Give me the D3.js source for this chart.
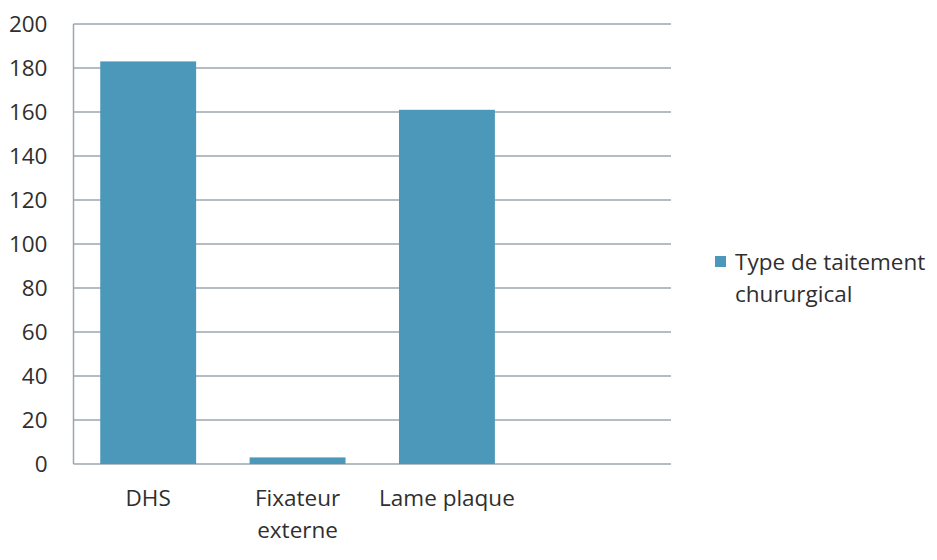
<!DOCTYPE html>
<html>
<head>
<meta charset="utf-8">
<script src="https://cdn.jsdelivr.net/npm/d3@7"></script>
<style>
  html, body { margin: 0; padding: 0; background: #fff; }
  svg { display: block; }
  text { font-family: "Open Sans", Lato, sans-serif; fill: #2f2f2f; }
</style>
</head>
<body>
<svg id="chart" width="937" height="560"></svg>
<script>
// Surgical treatment types and patient counts
const categories = ["DHS", "Fixateur externe", "Lame plaque", ""];
const values = [183, 3, 161, null];
const yTicks = [0, 20, 40, 60, 80, 100, 120, 140, 160, 180, 200];
const seriesName = ["Type de taitement", "chururgical"];

const svg = d3.select("#chart");
const margin = { left: 73.5, right: 266, top: 24, bottom: 96 };
const W = 937, H = 560;
const fontSize = "22.5px";

const x = d3.scaleBand()
  .domain(categories.map((c, i) => i))
  .range([margin.left, W - margin.right])
  .paddingInner(0.358)
  .paddingOuter(0.179);

const y = d3.scaleLinear()
  .domain([0, 200])
  .range([H - margin.bottom, margin.top]);

const gridColor = "#9ba6b1";
const barColor = "#4c98ba";

// horizontal gridlines
svg.append("g")
  .selectAll("line")
  .data(yTicks)
  .join("line")
  .attr("x1", margin.left)
  .attr("x2", W - margin.right)
  .attr("y1", d => y(d))
  .attr("y2", d => y(d))
  .attr("stroke", gridColor)
  .attr("stroke-width", 1.5);

// vertical axis line
svg.append("line")
  .attr("x1", margin.left).attr("x2", margin.left)
  .attr("y1", y(200)).attr("y2", y(0))
  .attr("stroke", gridColor)
  .attr("stroke-width", 1.5);

// y tick labels
const yAxis = d3.axisLeft(y).tickValues(yTicks).tickSize(0).tickPadding(26);
const gy = svg.append("g")
  .attr("transform", `translate(${margin.left},0)`)
  .call(yAxis);
gy.select(".domain").remove();
gy.selectAll("text")
  .style("font-size", fontSize)
  .style("font-family", "'Open Sans', Lato, sans-serif")
  .attr("fill", "#2f2f2f");

// bars
svg.append("g")
  .selectAll("rect")
  .data(values.map((v, i) => ({ v, i })).filter(d => d.v != null))
  .join("rect")
  .attr("x", d => x(d.i))
  .attr("width", x.bandwidth())
  .attr("y", d => y(d.v))
  .attr("height", d => y(0) - y(d.v))
  .attr("fill", barColor);

// category labels (wrapped onto lines)
const catLines = {
  "DHS": ["DHS"],
  "Fixateur externe": ["Fixateur", "externe"],
  "Lame plaque": ["Lame plaque"],
  "": []
};
const gx = svg.append("g");
categories.forEach((c, i) => {
  const t = gx.append("text")
    .attr("x", x(i) + x.bandwidth() / 2)
    .attr("y", 506)
    .attr("text-anchor", "middle")
    .style("font-size", fontSize);
  catLines[c].forEach((line, k) => {
    t.append("tspan")
      .attr("x", x(i) + x.bandwidth() / 2)
      .attr("dy", k === 0 ? 0 : 32)
      .text(line);
  });
});

// legend
const lg = svg.append("g");
lg.append("rect")
  .attr("x", 715).attr("y", 256)
  .attr("width", 11).attr("height", 11)
  .attr("fill", barColor);
const lt = lg.append("text")
  .attr("x", 735).attr("y", 270)
  .style("font-size", fontSize);
seriesName.forEach((s, k) => {
  lt.append("tspan")
    .attr("x", 735)
    .attr("dy", k === 0 ? 0 : 32)
    .text(s);
});
</script>
</body>
</html>
